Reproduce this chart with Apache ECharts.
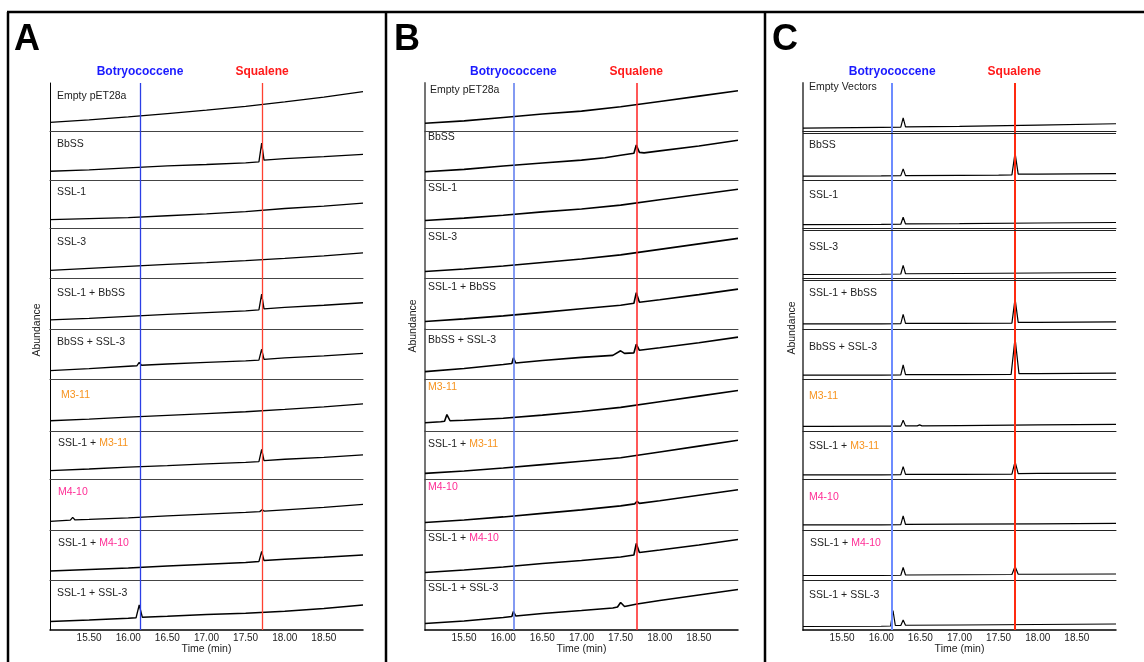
<!DOCTYPE html>
<html><head><meta charset="utf-8">
<script src="https://cdn.jsdelivr.net/npm/echarts@6/dist/echarts.min.js"></script>
<style>html,body{margin:0;padding:0;background:#fff}#c{width:1144px;height:662px}</style>
</head><body><div id="c"></div>
<script>
// ---------------- DATA ----------------
const ROWS_AB = ['Empty pET28a','BbSS','SSL-1','SSL-3','SSL-1 + BbSS','BbSS + SSL-3','M3-11','SSL-1 + M3-11','M4-10','SSL-1 + M4-10','SSL-1 + SSL-3'];
const ROWS_C  = ['Empty Vectors','BbSS','SSL-1','SSL-3','SSL-1 + BbSS','BbSS + SSL-3','M3-11','SSL-1 + M3-11','M4-10','SSL-1 + M4-10','SSL-1 + SSL-3'];
const TICKS = [15.5,16,16.5,17,17.5,18,18.5];
const BOTRYO_RT = [16.15,16.13,16.14];
const SQUAL_RT  = [17.71,17.70,17.70];

// [time (min), abundance in % of row height]
const TRACE_A = [
 [[15.0,19],[15.5,24],[16.0,30],[16.5,37],[17.0,44],[17.5,52],[18.0,61],[18.5,71],[19.0,82]],
 [[15.0,18],[15.5,21],[16.0,25],[16.5,29],[17.0,32],[17.5,35.5],[17.67,37.5],[17.705,76],[17.735,41],[18.0,44],[18.5,48],[19.0,53]],
 [[15.0,18],[15.5,20],[16.0,22],[16.5,26],[17.0,30],[17.5,34.5],[18.0,41],[18.5,46],[19.0,52]],
 [[15.0,16],[15.5,20],[16.0,24],[16.5,28],[17.0,31.5],[17.5,35.5],[18.0,40],[18.5,45],[19.0,51]],
 [[15.0,18],[15.5,21],[16.0,25],[16.5,29],[17.0,32.5],[17.5,36],[17.67,38],[17.705,69],[17.735,40],[18.0,43],[18.5,47],[19.0,52]],
 [[15.0,18],[15.5,22],[16.0,26.5],[16.11,27.5],[16.14,34],[16.17,28.5],[16.5,31],[17.0,34],[17.5,37],[17.67,38.5],[17.705,60],[17.735,40],[18.0,43],[18.5,47],[19.0,52]],
 [[15.0,20],[15.5,23],[16.0,27],[16.5,30.5],[17.0,34],[17.5,37.5],[18.0,42],[18.5,47],[19.0,53]],
 [[15.0,18.5],[15.5,22],[16.0,26],[16.5,29],[17.0,32.5],[17.5,35.5],[17.67,37],[17.705,62],[17.735,39],[18.0,42],[18.5,46],[19.0,51]],
 [[15.0,17],[15.26,19.5],[15.29,25],[15.32,20],[15.5,21],[16.0,24],[16.5,28],[17.0,31.5],[17.5,35],[17.68,36.5],[17.71,40],[17.74,37.5],[18.0,40],[18.5,45],[19.0,51]],
 [[15.0,18],[15.5,21],[16.0,24],[16.5,28],[17.0,31.5],[17.5,35],[17.67,37],[17.705,57],[17.735,39],[18.0,41.5],[18.5,45.5],[19.0,50]],
 [[15.0,17],[15.5,20],[16.0,23.5],[16.10,24.5],[16.14,50],[16.18,25.5],[16.5,27.5],[17.0,31],[17.5,33.5],[18.0,37.5],[18.5,43],[19.0,50]]
];
const TRACE_B = [
 [[15.0,17],[15.5,22],[16.0,29],[16.5,36],[17.0,42],[17.5,51],[18.0,62],[18.5,73],[19.0,84]],
 [[15.0,17],[15.5,22],[16.0,29],[16.5,35],[17.0,41],[17.3,46],[17.5,51],[17.67,55],[17.70,72],[17.74,57],[17.8,56],[18.0,60],[18.5,70],[19.0,82]],
 [[15.0,16],[15.5,21],[16.0,27],[16.5,34],[17.0,40],[17.5,48],[18.0,59],[18.5,70],[19.0,81]],
 [[15.0,14],[15.5,19],[16.0,25],[16.5,32],[17.0,39],[17.5,47],[18.0,58],[18.5,69],[19.0,80]],
 [[15.0,15],[15.5,20],[16.0,26],[16.5,33],[17.0,40],[17.5,47],[17.67,51],[17.70,72],[17.74,53],[18.0,58],[18.5,68],[19.0,79]],
 [[15.0,16],[15.5,22],[16.0,30],[16.11,32],[16.13,43],[16.16,33],[16.5,38],[17.0,44],[17.4,48],[17.5,57],[17.55,52],[17.67,53],[17.70,70],[17.74,58],[18.0,63],[18.5,73],[19.0,84]],
 [[15.0,16],[15.2,18],[15.25,19],[15.28,32],[15.32,20],[15.5,21],[16.0,25],[16.5,31],[17.0,38],[17.5,46],[18.0,57],[18.5,68],[19.0,79]],
 [[15.0,13],[15.5,18],[16.0,24],[16.5,31],[17.0,38],[17.5,45],[18.0,57],[18.5,69],[19.0,81]],
 [[15.0,15],[15.5,20],[16.0,26],[16.5,33],[17.0,40],[17.5,48],[17.68,52],[17.71,57],[17.74,53],[18.0,58],[18.5,69],[19.0,80]],
 [[15.0,15],[15.5,20],[16.0,26],[16.5,33],[17.0,39],[17.5,46],[17.67,50],[17.70,73],[17.74,55],[18.0,60],[18.5,70],[19.0,81]],
 [[15.0,13],[15.5,18],[16.0,25],[16.11,27],[16.13,37],[16.16,28],[16.5,33],[17.0,39],[17.4,44],[17.46,46],[17.5,55],[17.55,47],[17.71,52],[18.0,59],[18.5,70],[19.0,81]]
];
const TRACE_C = [
 [[15.0,7],[16.0,8.5],[16.25,9],[16.28,28],[16.31,9.5],[17.0,10.5],[18.0,13],[19.0,16]],
 [[15.0,8],[16.0,8.5],[16.25,9],[16.28,23],[16.31,9],[17.0,9.5],[17.5,10],[17.67,10.5],[17.71,56],[17.75,12],[18.0,12],[19.0,13]],
 [[15.0,7.5],[16.0,8],[16.25,8.5],[16.28,23],[16.31,9],[17.0,9.5],[18.0,11],[19.0,12]],
 [[15.0,8],[16.0,8.5],[16.25,9],[16.28,26],[16.31,9.5],[17.0,10],[18.0,11],[19.0,12]],
 [[15.0,10],[16.0,10],[16.25,10.5],[16.28,29],[16.31,11],[17.0,11],[17.67,11.5],[17.71,60],[17.75,13],[18.0,13],[19.0,14]],
 [[15.0,9],[16.0,9],[16.25,9.5],[16.28,29],[16.31,10],[17.0,10],[17.66,10.5],[17.71,82],[17.76,12],[18.0,12],[19.0,13]],
 [[15.0,9],[15.26,9],[15.28,11],[15.30,9],[16.0,9.5],[16.25,9.5],[16.28,21],[16.31,10],[16.46,10],[16.49,12],[16.52,10],[17.0,10.5],[18.0,12],[19.0,13]],
 [[15.0,10],[16.0,10],[16.25,10.5],[16.28,27],[16.31,11],[17.0,11],[17.67,11.5],[17.71,37],[17.75,12.5],[18.0,13],[19.0,13.5]],
 [[15.0,10],[16.0,10],[16.25,10.5],[16.28,28],[16.31,11],[17.0,11.5],[18.0,12],[19.0,13]],
 [[15.0,9],[16.0,9],[16.25,9.5],[16.28,25],[16.31,10],[17.0,10.5],[17.67,11],[17.71,27],[17.75,11.5],[18.0,11.5],[19.0,12]],
 [[15.0,7],[16.0,7.5],[16.12,8],[16.15,39],[16.18,9],[16.25,9],[16.28,20],[16.31,9.5],[17.0,10],[18.0,11],[19.0,12]]
];

// ---------------- LAYOUT / STYLE ----------------
const FONT = '"Liberation Sans", Arial, Helvetica, sans-serif';
const EDGES = [83,131.5,180,228.3,278.5,329,379.7,431,479.7,530,580,630];
const PLOT_W = 313;
const PANELS = [
 {letter:'A', letterX:14, left:50, border:8, traces:TRACE_A, names:ROWS_AB, abX:37.5, abY:330,
  lw:1.3, axisColor:'#000', axisW:1, sepColor:'#444', blue:'#2b3fe6', red:'#ff4030', mw:1.3,
  dx:[7,7,7,7,7,7,11,8,8,8,7], dy:[13.7,13,12.7,14.7,14.7,13.3,16,12.3,13.3,13.3,13.3], doubles:[]},
 {letter:'B', letterX:394, left:425, border:386, traces:TRACE_B, names:ROWS_AB, abX:413.5, abY:326,
  lw:1.6, axisColor:'#666', axisW:1.8, sepColor:'#444', blue:'#5a78ee', red:'#ff2020', mw:1.5,
  dx:[5,3,3,3,3,3,3,3,3,3,3], dy:[7.7,6.3,8.3,9.3,8.7,11.7,8.3,13.3,7.7,8.3,8.3], doubles:[]},
 {letter:'C', letterX:772, left:803, border:765, traces:TRACE_C, names:ROWS_C, abX:792.5, abY:328,
  lw:1.2, axisColor:'#666', axisW:2, sepColor:'#222', blue:'#6d8cff', red:'#ff2a10', mw:2,
  dx:[6,6,6,6,6,6,6,6,6,7,6], dy:[5,14,15.3,19.4,15.3,18.3,16.7,15.7,18.3,14,15.7], doubles:[1,3,4]}
];
const ORANGE = '#f7931e', PINK = '#ff2d95', TXT = '#222';

function richText(s){
  return s.split(/(M3-11|M4-10)/).filter(p=>p.length).map(p=>{
    if(p==='M3-11') return '{o|'+p+'}';
    if(p==='M4-10') return '{p|'+p+'}';
    return '{n|'+p+'}';
  }).join('');
}

const grids=[], xAxes=[], yAxes=[], series=[], titles=[];
const graphic=[
  {type:'line', shape:{x1:7,y1:12,x2:1144,y2:12}, style:{stroke:'#000', lineWidth:2.5}, silent:true}
];
PANELS.forEach((p,pi)=>{
  graphic.push({type:'line', shape:{x1:p.border,y1:12,x2:p.border,y2:662}, style:{stroke:'#000', lineWidth:2.5}, silent:true});
  graphic.push({type:'text', x:p.letterX, y:40, silent:true,
    style:{text:p.letter, font:'bold 36px '+FONT, fill:'#000', align:'left', verticalAlign:'middle', textAlign:'left', textVerticalAlign:'middle'}});
  graphic.push({type:'text', x:p.abX, y:p.abY, rotation:Math.PI/2, silent:true,
    style:{text:'Abundance', font:'10.5px '+FONT, fill:TXT, align:'center', verticalAlign:'middle', textAlign:'center', textVerticalAlign:'middle'}});
  for(let r=0;r<11;r++){
    const k = grids.length;
    const h = EDGES[r+1]-EDGES[r];
    const last = r===10;
    grids.push({left:p.left, top:EDGES[r], width:PLOT_W, height:h});
    xAxes.push({type:'value', gridIndex:k, min:15, max:19, interval:0.5,
      axisLine:{show:true, onZero:false, lineStyle:{color: last?'#000':p.sepColor, width: last?1.5:1}},
      axisTick:{show:false}, splitLine:{show:false},
      axisLabel: last ? {show:true, showMinLabel:false, showMaxLabel:false, margin:3, fontSize:10, color:TXT, fontFamily:FONT,
        formatter:v=> TICKS.some(t=>Math.abs(t-v)<1e-6) ? v.toFixed(2) : ''} : {show:false},
      name: last ? 'Time (min)' : '', nameLocation:'middle', nameGap:13,
      nameTextStyle:{fontSize:10.5, color:TXT, fontFamily:FONT}});
    yAxes.push({type:'value', gridIndex:k, min:0, max:100,
      axisLine:{show:true, onZero:false, lineStyle:{color:p.axisColor, width:p.axisW}},
      axisTick:{show:false}, axisLabel:{show:false}, splitLine:{show:false}});
    const mlData = [
      {xAxis:BOTRYO_RT[pi], name:'Botryococcene', lineStyle:{color:p.blue, width:p.mw, type:'solid'},
       label: r===0 ? {show:true, position:'end', formatter:'{b}', color:'#1a1aff', fontWeight:'bold', fontSize:12, fontFamily:FONT, distance:5} : {show:false}},
      {xAxis:SQUAL_RT[pi], name:'Squalene', lineStyle:{color:p.red, width:p.mw, type:'solid'},
       label: r===0 ? {show:true, position:'end', formatter:'{b}', color:'#ff1a1a', fontWeight:'bold', fontSize:12, fontFamily:FONT, distance:5} : {show:false}}
    ];
    if(p.doubles.includes(r)){
      mlData.push({yAxis: 100 - 1.8/h*100, lineStyle:{color:p.sepColor, width:1, type:'solid'}, label:{show:false}});
    }
    series.push({type:'line', xAxisIndex:k, yAxisIndex:k, data:p.traces[r], showSymbol:false, symbol:'none',
      lineStyle:{color:'#000', width:p.lw}, animation:false, silent:true, z:3,
      markLine:{silent:true, symbol:['none','none'], animation:false, label:{show:false}, data:mlData}});
    titles.push({text:richText(p.names[r]), left:p.left+p.dx[r], top:EDGES[r]+p.dy[r]-6, padding:0,
      textStyle:{fontSize:10.5, fontWeight:'normal', color:TXT, fontFamily:FONT,
        rich:{n:{color:TXT, fontSize:10.5, fontFamily:FONT}, o:{color:ORANGE, fontSize:10.5, fontFamily:FONT}, p:{color:PINK, fontSize:10.5, fontFamily:FONT}}}});
  }
});

const chart = echarts.init(document.getElementById('c'), null, {renderer:'canvas'});
chart.setOption({backgroundColor:'#fff', animation:false, title:titles, grid:grids, xAxis:xAxes, yAxis:yAxes, series:series, graphic:graphic});
</script></body></html>
